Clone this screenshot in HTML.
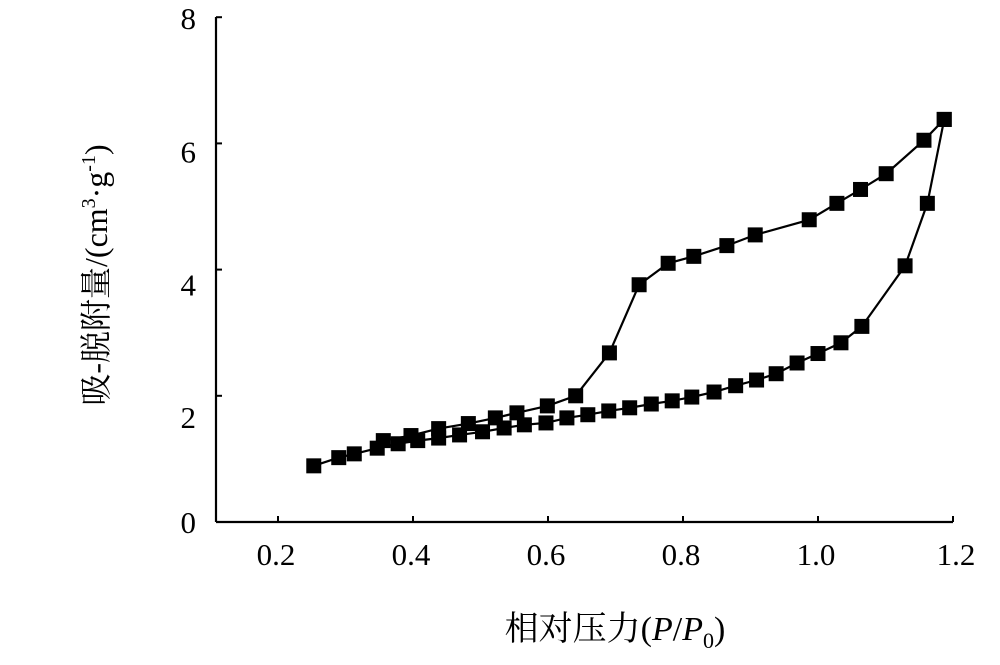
<!DOCTYPE html>
<html><head><meta charset="utf-8"><style>
html,body{margin:0;padding:0;background:#fff;}
svg{display:block;font-family:"Liberation Serif","Noto Serif CJK SC",serif;}
</style></head><body>
<svg id="chart" width="1000" height="665" viewBox="0 0 1000 665" xmlns="http://www.w3.org/2000/svg">
<g id="axes"></g>
<g id="series"></g>
<text transform="translate(107,275) rotate(-90)" text-anchor="middle" font-size="32" font-family="'Liberation Serif','Noto Serif CJK SC',serif">吸-脱附量/(cm<tspan font-size="20" dy="-12">3</tspan><tspan dy="12">·g</tspan><tspan font-size="20" dy="-12">-1</tspan><tspan dy="12">)</tspan></text>
<text x="615" y="640" text-anchor="middle" font-size="34">相对压力(<tspan font-style="italic">P</tspan>/<tspan font-style="italic">P</tspan><tspan font-size="22" dy="8">0</tspan><tspan dy="-8">)</tspan></text>
</svg>
<script>
const xTicks = [0.2, 0.4, 0.6, 0.8, 1.0, 1.2];
const xTickLabels = ["0.2","0.4","0.6","0.8","1.0","1.2"];
const yTicks = [0, 2, 4, 6, 8];
const yTickLabels = ["0","2","4","6","8"];
const adsX = [0.253,0.290,0.313,0.347,0.378,0.407,0.438,0.469,0.503,0.535,0.565,0.597,0.628,0.659,0.690,0.721,0.753,0.784,0.813,0.846,0.878,0.909,0.938,0.969,1.000,1.034,1.065,1.129,1.162,1.187];
const adsY = [0.89,1.02,1.08,1.17,1.24,1.29,1.33,1.38,1.43,1.49,1.54,1.57,1.65,1.70,1.76,1.81,1.87,1.92,1.98,2.06,2.16,2.25,2.35,2.52,2.67,2.84,3.10,4.06,5.05,6.38];
const desX = [1.187,1.157,1.101,1.063,1.028,0.987,0.907,0.865,0.816,0.778,0.735,0.691,0.641,0.599,0.554,0.522,0.482,0.438,0.397,0.356];
const desY = [6.38,6.05,5.52,5.27,5.05,4.79,4.55,4.38,4.21,4.10,3.76,2.68,2.00,1.84,1.73,1.65,1.56,1.48,1.37,1.29];

const NS = "http://www.w3.org/2000/svg";
const X0 = 216, XEND = 953, Y0 = 522, YTOP = 17;
function sx(v){ return 278 + (v - 0.2) * 675; }
function sy(v){ return 522 - v * 63.1; }
function mk(tag, attrs, parent){ const e = document.createElementNS(NS, tag); for (const k in attrs) e.setAttribute(k, attrs[k]); parent.appendChild(e); return e; }

const axes = document.getElementById('axes');
const yAxis = mk('path', {d:`M${X0},${YTOP} L${X0},${Y0}`, stroke:'#000','stroke-width':2.2, fill:'none'}, axes);


const xAxis = mk('path', {d:`M${X0},${Y0} L${XEND},${Y0}`, stroke:'#000','stroke-width':2.2, fill:'none'}, axes);



const yLabelOffset = [0, 21, 15, 8, 1];
yTicks.forEach((v, i) => {
  const y = sy(v);
  if (v > 0) {
    const t = mk('line', {x1:X0, y1:y, x2:X0+6, y2:y, stroke:'#000','stroke-width':2}, axes);
    
    
  }
  const lb = mk('text', {x:196, y:y + yLabelOffset[i] + 11, 'text-anchor':'end', 'font-size':31}, axes);
  lb.textContent = yTickLabels[i];
  
  
});
xTicks.forEach((v, i) => {
  const x = sx(v);
  const t = mk('line', {x1:x, y1:Y0, x2:x, y2:Y0-6, stroke:'#000','stroke-width':2}, axes);
  
  
  const lb = mk('text', {x:x + (i === 5 ? 3 : -2), y:565, 'text-anchor':'middle', 'font-size':31}, axes);
  lb.textContent = xTickLabels[i];
  
  
});

const series = document.getElementById('series');
function drawSeries(xs, ys, name){
  const g = mk('g', {}, series);
  
  
  const d = xs.map((x, i) => (i ? 'L' : 'M') + sx(x).toFixed(1) + ',' + sy(ys[i]).toFixed(1)).join(' ');
  const line = mk('path', {d:d, stroke:'#000', 'stroke-width':2.2, fill:'none'}, g);
  
  
  xs.forEach((x, i) => {
    const r = mk('rect', {x:sx(x)-7.5, y:sy(ys[i])-7.5, width:15, height:15, fill:'#000'}, g);
    
    
  });
}
drawSeries(adsX, adsY, 'adsorption-series');
drawSeries(desX, desY, 'desorption-series');
</script>
</body></html>
